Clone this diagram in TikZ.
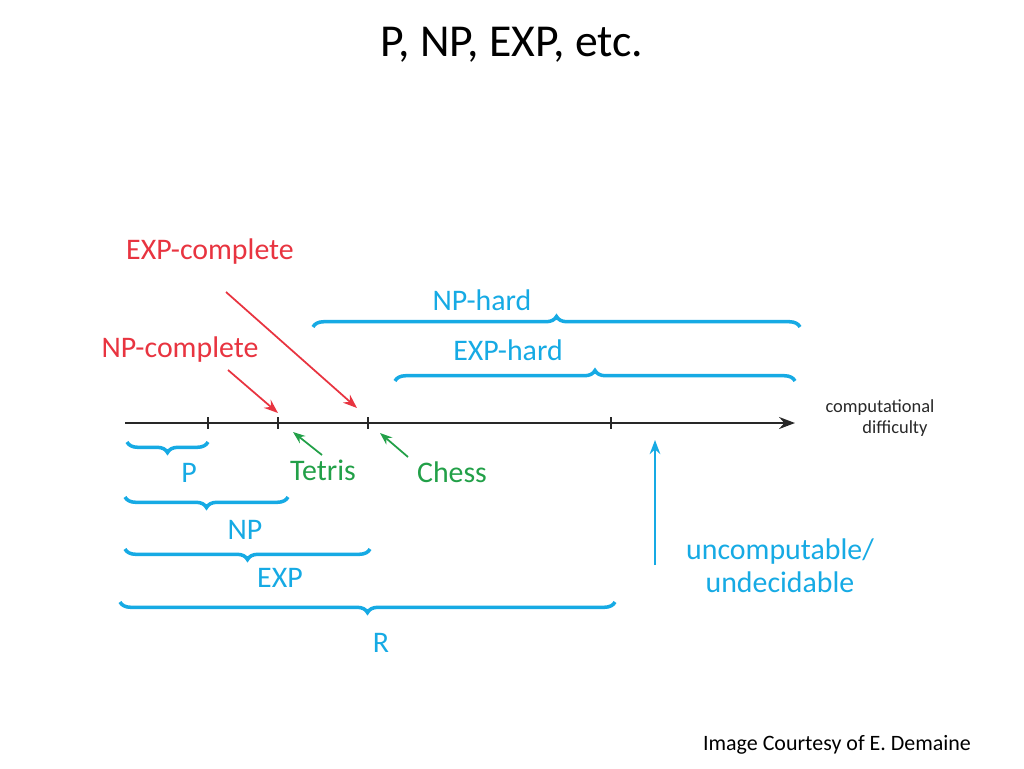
\documentclass[tikz,border=0pt]{standalone}
\usepackage{fontspec}
\setmainfont{Carlito}
\usetikzlibrary{decorations.pathreplacing,arrows.meta}
\definecolor{redc}{RGB}{232,52,64}
\definecolor{greenc}{RGB}{34,160,72}
\definecolor{bluec}{RGB}{22,170,228}
\definecolor{axisc}{RGB}{40,40,40}
\tikzset{every path/.style={line width=1 pt},
  lbl/.style={font=\fontsize{17}{19}\selectfont},
  brc/.style={draw=bluec,line width=2pt,decorate,decoration={brace,amplitude=6pt}},
  brcd/.style={brc,decoration={brace,mirror,amplitude=6pt}}}
\begin{document}
\begin{tikzpicture}[x=0.02cm,y=-0.02cm]
\useasboundingbox (0,0) rectangle (1024,768);
\node[font=\fontsize{26}{30}\selectfont] (title) at (512,45) {P, NP, EXP, etc.};
% axis
\coordinate (a0) at (125,423);
\coordinate (a1) at (795,423);
\draw[axisc,line width=1.6pt,-{Stealth[length=9pt]}] (a0) -- (a1);
\foreach \x in {208,278,368,611}
  \draw[axisc,line width=1.6pt] (\x,417) -- (\x,429);
\node[align=left,font=\fontsize{10.5}{12}\selectfont,text=axisc] (cd) at (880,418) {computational\\\hspace{2em}difficulty};
% red
\node[lbl,text=redc] (expc) at (210,252) {EXP-complete};
\node[lbl,text=redc] (npc) at (180,350) {NP-complete};
\coordinate (expt) at (357,408);
\coordinate (npt) at (278,413);
\draw[redc,-{Stealth[length=8pt]}] (226,292) -- (expt);
\draw[redc,-{Stealth[length=8pt]}] (228,370) -- (npt);
% green
\node[lbl,text=greenc] (tetris) at (323,470) {Tetris};
\node[lbl,text=greenc] (chess) at (452,472) {Chess};
\draw[greenc,-{Stealth[length=7pt]}] (322,455) -- (293,432);
\draw[greenc,-{Stealth[length=7pt]}] (408,457) -- (380,433);
% braces below
\draw[brcd] (127,442) -- (208,442);
\node[lbl,text=bluec] (p) at (189,473) {P};
\draw[brcd] (125,497) -- (288,497);
\node[lbl,text=bluec] (np) at (245,530) {NP};
\draw[brcd] (125,549) -- (370,549);
\node[lbl,text=bluec] (exp) at (280,578) {EXP};
\draw[brcd] (120,602) -- (615,602);
\node[lbl,text=bluec] (r) at (381,643) {R};
% braces above
\draw[brc] (313,327) -- (800,327);
\node[lbl,text=bluec] (nph) at (482,300) {NP-hard};
\draw[brc] (395,381) -- (795,381);
\node[lbl,text=bluec] (exph) at (508,350) {EXP-hard};
% uncomputable
\node[lbl,text=bluec,align=center] (unc) at (780,566) {uncomputable/\\undecidable};
\draw[bluec,line width=1.5pt,-{Stealth[length=8pt]}] (655,565) -- (655,440);
\node[font=\fontsize{12.5}{14}\selectfont] (credit) at (837,745) {Image Courtesy of E. Demaine};
\end{tikzpicture}
\end{document}
